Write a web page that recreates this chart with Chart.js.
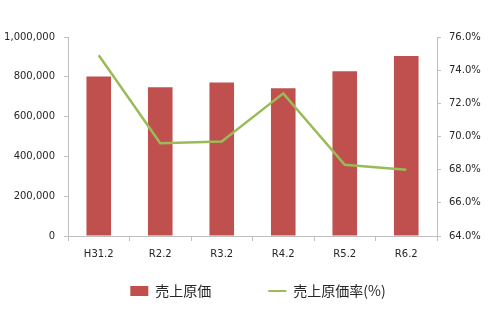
<!DOCTYPE html>
<html>
<head>
<meta charset="utf-8">
<script src="https://cdn.jsdelivr.net/npm/chart.js@4"></script>
<style>
  body { margin: 0; background: #fff; }
</style>
</head>
<body>
<canvas id="myChart" width="500" height="313"></canvas>
<script>
const labels = ['H31.2', 'R2.2', 'R3.2', 'R4.2', 'R5.2', 'R6.2'];
const cost = [801000, 748000, 771000, 743000, 828000, 905000];
const costRate = [74.9, 69.6, 69.7, 72.6, 68.3, 68.0];

const axisGray = '#BFBFBF';
const textGray = '#262626';
const tickFont = { family: 'DejaVu Sans', size: 10 };

const defaultLabels = Chart.defaults.plugins.legend.labels.generateLabels;

// legend sits a little right of centre in the original
const legendShift = {
  id: 'legendShift',
  beforeDraw(chart) {
    if (chart.legend && !chart.legend._shifted) {
      chart.legend.left += 8;
      chart.legend.right += 8;
      chart.legend._shifted = true;
    }
  }
};

const data = {
  labels: labels,
  datasets: [{
    type: 'bar',
    label: '売上原価',
    data: cost,
    backgroundColor: '#C0504D',
    borderWidth: 0,
    barPercentage: 0.8,
    categoryPercentage: 0.5,
    yAxisID: 'y',
    order: 1
  }, {
    type: 'line',
    label: '売上原価率(%)',
    data: costRate,
    borderColor: '#9BBB59',
    backgroundColor: '#9BBB59',
    borderWidth: 2.5,
    pointRadius: 0,
    tension: 0,
    yAxisID: 'y1',
    order: 0
  }]
};

const config = {
  data,
  plugins: [legendShift],
  options: {
    responsive: false,
    animation: false,
    layout: { padding: { top: 37, right: 0, bottom: 5, left: 0 } },
    plugins: {
      tooltip: { enabled: false },
      legend: {
        position: 'bottom',
        labels: {
          usePointStyle: true,
          pointStyleWidth: 18,
          boxHeight: 10,
          padding: 15,
          color: textGray,
          font: { family: 'Noto Sans CJK JP', size: 14 },
          generateLabels: chart => {
            let items = defaultLabels(chart);
            items.sort((a, b) => a.datasetIndex - b.datasetIndex);
            items.forEach(it => {
              if (it.datasetIndex === 0) {
                it.pointStyle = 'rect';
                it.text = it.text + '\u3000\u3000\u3000';
                it.lineWidth = 0;
              } else {
                it.pointStyle = 'line';
                it.lineWidth = 2;
              }
            });
            return items;
          }
        }
      }
    },
    scales: {
      x: {
        offset: true,
        grid: {
          offset: true,
          drawOnChartArea: false,
          color: axisGray,
          tickLength: 5
        },
        border: { color: axisGray },
        ticks: { color: textGray, font: tickFont, padding: 7, maxRotation: 0 },
        afterFit: s => { s.height = 33; }
      },
      y: {
        position: 'left',
        min: 0,
        max: 1000000,
        grid: { drawOnChartArea: false, color: axisGray, tickLength: 4 },
        border: { color: axisGray },
        ticks: {
          stepSize: 200000,
          color: textGray,
          font: tickFont,
          padding: 9,
          callback: v => v.toLocaleString('en-US')
        },
        afterFit: s => { s.width = 68; }
      },
      y1: {
        position: 'right',
        min: 64,
        max: 76,
        grid: { drawOnChartArea: false, color: axisGray, tickLength: 4 },
        border: { color: axisGray },
        ticks: {
          stepSize: 2,
          color: textGray,
          font: tickFont,
          padding: 8,
          callback: v => v.toFixed(1) + '%'
        },
        afterFit: s => { s.width = 63; }
      }
    }
  }
};

new Chart(document.getElementById('myChart'), config);
</script>
</body>
</html>
